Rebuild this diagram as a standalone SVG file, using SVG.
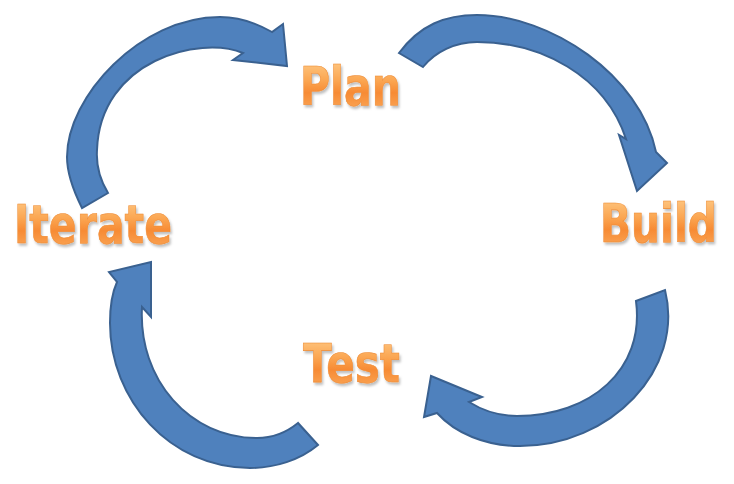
<svg xmlns="http://www.w3.org/2000/svg" width="734" height="484" viewBox="0 0 734 484">
  <defs>
    <linearGradient id="orange" x1="0" y1="0" x2="0" y2="1">
      <stop offset="0" stop-color="#FFD08E"/>
      <stop offset="0.4" stop-color="#FBA652"/>
      <stop offset="0.6" stop-color="#F78B34"/>
      <stop offset="1" stop-color="#FBAE62"/>
    </linearGradient>
    <filter id="shadow" x="-10%" y="-10%" width="125%" height="140%">
      <feDropShadow dx="1.5" dy="2.5" stdDeviation="1.2" flood-color="#000" flood-opacity="0.25"/>
    </filter>
  </defs>
  <style>
    .arrow { fill: #4F81BD; stroke: #3A6190; stroke-width: 2; stroke-linejoin: miter; }
    .label { font-family: "DejaVu Sans", Verdana, sans-serif; font-weight: bold; font-size: 53px; fill: url(#orange); stroke: #EE8A33; stroke-width: 0.6; filter: url(#shadow); }
  </style>
  <rect width="734" height="484" fill="#FFFFFF"/>
  <g id="connectors">
    <path id="arrow-iterate-plan" class="arrow" d="M82,208 C74,192 67,175 67,157 C67,97 140,17 220,17 C240,17 258,24 272,32 L283,24 L287,66 L233,60 L243,53 C200,35 100,60 97,150 C96,165 100,180 108,193 Z"/>
    <path id="arrow-plan-build" class="arrow" d="M399,53 C420,25 445,15 477,15 C550,15 640,75 656,152 L667,163 L637,191 L619,135 L626,139 C605,75 540,42 477,42 C455,42 435,52 423,67 Z"/>
    <path id="arrow-build-test" class="arrow" d="M665,290 C685,370 610,446 520,446 C485,446 455,433 437,413 L424,417 L431,376 L482,397 L469,402 C485,412 500,416 517,416 C590,416 645,370 636,301 Z"/>
    <path id="arrow-test-iterate" class="arrow" d="M318,445 C300,460 275,468 250,468 C170,468 110,400 110,323 C110,305 112,293 117,282 L109,272 L151,262 L151,317 L142,307 C138,380 190,438 257,438 C272,438 287,432 298,423 Z"/>
  </g>
  <g id="node-plan">
    <text class="label" x="300" y="105" textLength="101" lengthAdjust="spacingAndGlyphs">Plan</text>
  </g>
  <g id="node-build">
    <text class="label" x="600" y="242" textLength="117" lengthAdjust="spacingAndGlyphs">Build</text>
  </g>
  <g id="node-test">
    <text class="label" x="303" y="382" textLength="97" lengthAdjust="spacingAndGlyphs">Test</text>
  </g>
  <g id="node-iterate">
    <text class="label" x="14" y="243" textLength="158" lengthAdjust="spacingAndGlyphs">Iterate</text>
  </g>
</svg>
